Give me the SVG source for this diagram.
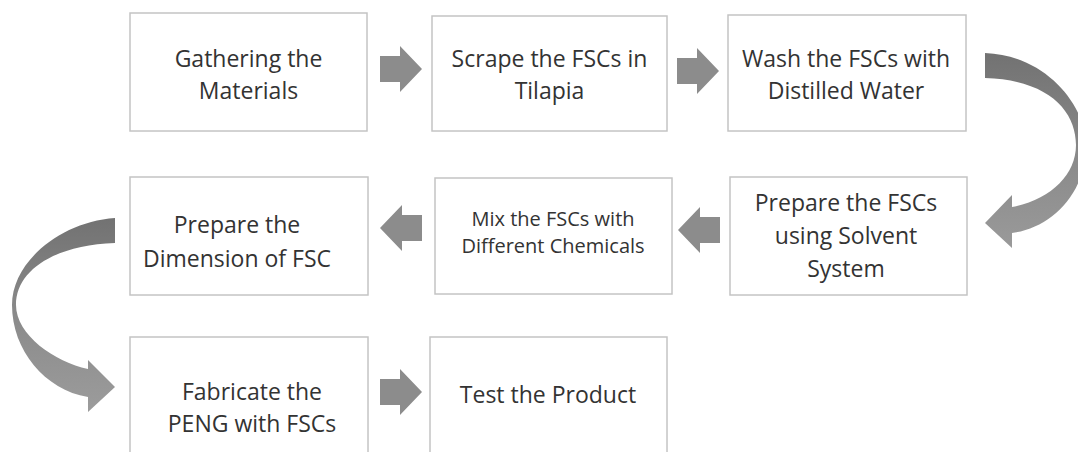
<svg xmlns="http://www.w3.org/2000/svg" width="1078" height="452" viewBox="0 0 1078 452">
  <defs>
    <style>
      .box { fill: #ffffff; stroke: #c4c4c4; stroke-width: 1.5; }
      .t { font-family: "Open Sans", "Liberation Sans", sans-serif; font-size: 23px; fill: #333333; text-anchor: middle; }
      .ts { font-family: "Open Sans", "Liberation Sans", sans-serif; font-size: 20px; fill: #333333; text-anchor: middle; }
      .arr { fill: #8c8c8c; }
    </style>
    <path id="rarrow" d="M0,-13 H20 V-23 L42,0 L20,23 V13 H0 Z"/>
    <linearGradient id="gR" gradientUnits="userSpaceOnUse" x1="0" y1="53" x2="0" y2="248">
      <stop offset="0" stop-color="#727272"/>
      <stop offset="0.55" stop-color="#8a8a8a"/>
      <stop offset="1" stop-color="#9a9a9a"/>
    </linearGradient>
    <linearGradient id="gL" gradientUnits="userSpaceOnUse" x1="0" y1="218" x2="0" y2="412">
      <stop offset="0" stop-color="#727272"/>
      <stop offset="0.5" stop-color="#8a8a8a"/>
      <stop offset="1" stop-color="#9c9c9c"/>
    </linearGradient>
  </defs>
  <rect width="1078" height="452" fill="#ffffff"/>

  <g id="connectors">
    <use href="#rarrow" class="arr" transform="translate(380,69)"/>
    <use href="#rarrow" class="arr" transform="translate(677,71)"/>
    <use href="#rarrow" class="arr" transform="translate(720,230) scale(-1,1)"/>
    <use href="#rarrow" class="arr" transform="translate(422,228) scale(-1,1)"/>
    <use href="#rarrow" class="arr" transform="translate(380,392)"/>
    <path fill="url(#gR)" d="M985,53 C1045,55 1086,105 1086,145 C1086,195 1050,228 1012,233 L1012,248 L985,223 L1012,195 L1012,207 C1050,200 1076,175 1076,145 C1076,112 1050,80 985,78 Z"/>
    <path fill="url(#gL)" d="M115,218 C60,222 12,262 12,305 C12,350 45,390 88,397 L88,412 L115,387 L88,360 L88,369 C55,362 16,335 16,305 C16,270 55,245 115,243 Z"/>
  </g>

  <g id="n1">
    <rect class="box" x="130" y="13" width="237" height="118"/>
    <text class="t" x="248.5" y="67">Gathering the</text>
    <text class="t" x="248.5" y="99">Materials</text>
  </g>
  <g id="n2">
    <rect class="box" x="432" y="16" width="235" height="115"/>
    <text class="t" x="549.5" y="67">Scrape the FSCs in</text>
    <text class="t" x="549.5" y="99">Tilapia</text>
  </g>
  <g id="n3">
    <rect class="box" x="728" y="15" width="238" height="116"/>
    <text class="t" x="846" y="67">Wash the FSCs with</text>
    <text class="t" x="846" y="99">Distilled Water</text>
  </g>
  <g id="n4">
    <rect class="box" x="730" y="177" width="237" height="118"/>
    <text class="t" x="846" y="211">Prepare the FSCs</text>
    <text class="t" x="846" y="244">using Solvent</text>
    <text class="t" x="846" y="277">System</text>
  </g>
  <g id="n5">
    <rect class="box" x="435" y="178" width="237" height="116"/>
    <text class="ts" x="553" y="226">Mix the FSCs with</text>
    <text class="ts" x="553" y="253">Different Chemicals</text>
  </g>
  <g id="n6">
    <rect class="box" x="130" y="177" width="238" height="118"/>
    <text class="t" x="237" y="233">Prepare the</text>
    <text class="t" x="237" y="267">Dimension of FSC</text>
  </g>
  <g id="n7">
    <rect class="box" x="130" y="337" width="238" height="130"/>
    <text class="t" x="252" y="400">Fabricate the</text>
    <text class="t" x="252" y="432">PENG with FSCs</text>
  </g>
  <g id="n8">
    <rect class="box" x="430" y="337" width="237" height="130"/>
    <text class="t" x="548" y="403">Test the Product</text>
  </g>
</svg>
